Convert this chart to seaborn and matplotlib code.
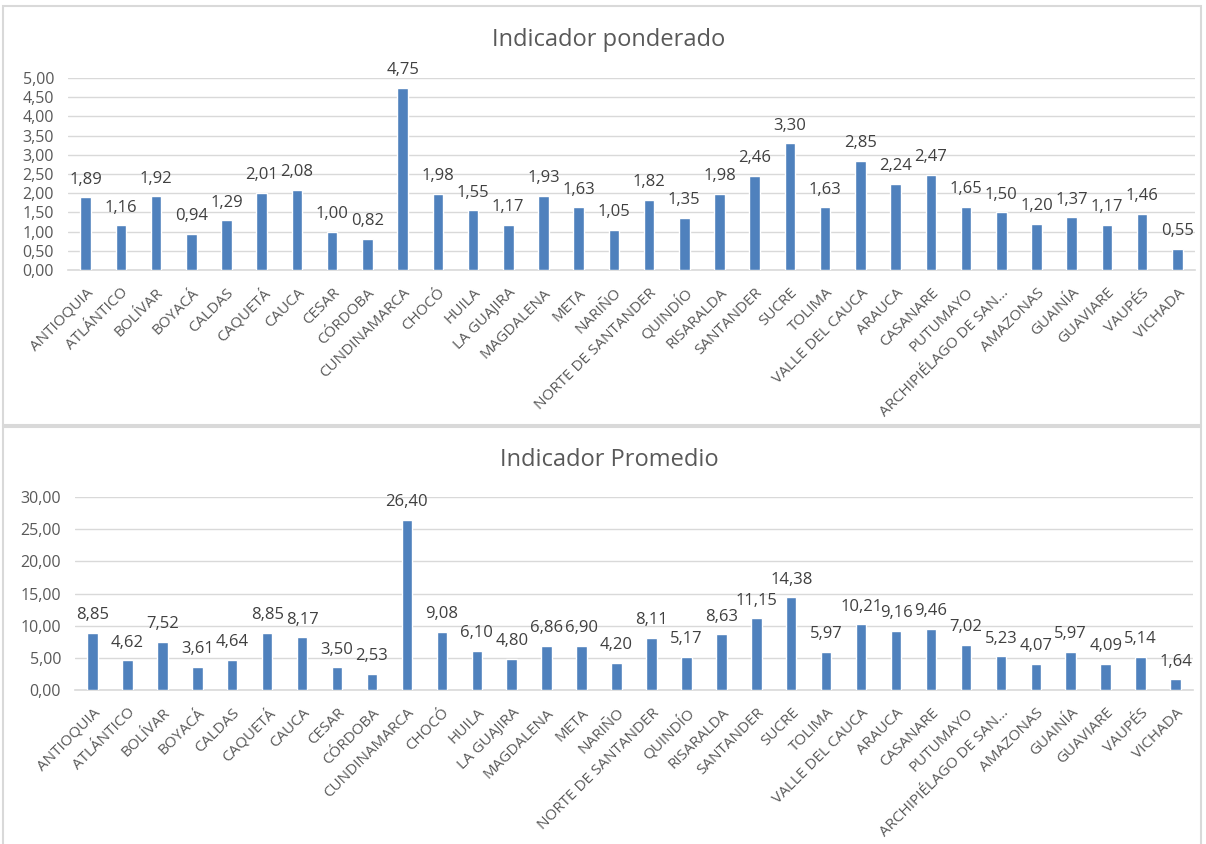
import matplotlib
matplotlib.use("Agg")
import matplotlib.pyplot as plt
import seaborn as sns
import pandas as pd
from matplotlib.patches import Rectangle

categories = ["ANTIOQUIA", "ATLÁNTICO", "BOLÍVAR", "BOYACÁ", "CALDAS", "CAQUETÁ", "CAUCA",
              "CESAR", "CÓRDOBA", "CUNDINAMARCA", "CHOCÓ", "HUILA", "LA GUAJIRA", "MAGDALENA",
              "META", "NARIÑO", "NORTE DE SANTANDER", "QUINDÍO", "RISARALDA", "SANTANDER",
              "SUCRE", "TOLIMA", "VALLE DEL CAUCA", "ARAUCA", "CASANARE", "PUTUMAYO",
              "ARCHIPIÉLAGO DE SAN...", "AMAZONAS", "GUAINÍA", "GUAVIARE", "VAUPÉS", "VICHADA"]

ponderado = [1.89, 1.16, 1.92, 0.94, 1.29, 2.01, 2.08, 1.00, 0.82, 4.75, 1.98, 1.55, 1.17, 1.93,
             1.63, 1.05, 1.82, 1.35, 1.98, 2.46, 3.30, 1.63, 2.85, 2.24, 2.47, 1.65, 1.50, 1.20,
             1.37, 1.17, 1.46, 0.55]

promedio = [8.85, 4.62, 7.52, 3.61, 4.64, 8.85, 8.17, 3.50, 2.53, 26.40, 9.08, 6.10, 4.80, 6.86,
            6.90, 4.20, 8.11, 5.17, 8.63, 11.15, 14.38, 5.97, 10.21, 9.16, 9.46, 7.02, 5.23, 4.07,
            5.97, 4.09, 5.14, 1.64]

titles = ["Indicador ponderado", "Indicador Promedio"]
yticks_top = [0, 0.5, 1, 1.5, 2, 2.5, 3, 3.5, 4, 4.5, 5]
yticks_bot = [0, 5, 10, 15, 20, 25, 30]

sns.set_theme(style="white")
plt.rcParams["font.family"] = ["Open Sans", "DejaVu Sans"]

W, H = 1206, 844
fig = plt.figure(figsize=(W / 100, H / 100), dpi=100)

BAR = "#4F81BD"
TXT = "#595959"
GRID = "#D9D9D9"

def fx(px):
    return px / W

def fy(py):
    return 1 - py / H

# panel borders
for (x0, y0, x1, y1) in [(3, 6, 1201, 425), (3, 427, 1201, 846)]:
    fig.add_artist(Rectangle((fx(x0), fy(y1)), fx(x1 - x0), (y1 - y0) / H,
                             transform=fig.transFigure, fill=False,
                             edgecolor=GRID, linewidth=1.5))

def panel(left, right, ytop, ybot, values, yticks, title, title_y):
    ax = fig.add_axes([fx(left), fy(ybot), fx(right - left), (ybot - ytop) / H])
    df = pd.DataFrame({"cat": categories, "val": values})
    sns.barplot(data=df, x="cat", y="val", color=BAR, width=0.3, saturation=1,
                ax=ax, zorder=3)
    ax.set_xlim(-0.5, len(categories) - 0.5)
    ax.set_ylim(yticks[0], yticks[-1])
    ax.set_yticks(yticks)
    ax.set_yticklabels([f"{t:.2f}".replace(".", ",") for t in yticks], color=TXT, fontsize=11.5)
    ax.set_xticks(range(len(categories)))
    ax.set_xticklabels(categories, rotation=45, ha="right", rotation_mode="anchor",
                       color=TXT, fontsize=11)
    ax.tick_params(axis="y", length=0, pad=10)
    ax.tick_params(axis="x", length=0, pad=11)
    ax.set_xlabel("")
    ax.set_ylabel("")
    ax.grid(axis="y", color=GRID, linewidth=1, zorder=0)
    for s in ["top", "right", "left"]:
        ax.spines[s].set_visible(False)
    ax.spines["bottom"].set_color(GRID)
    ax.spines["bottom"].set_linewidth(1.2)
    ax.set_facecolor("none")
    for i, v in enumerate(values):
        ax.annotate(f"{v:.2f}".replace(".", ","), (i, v), xytext=(0, 7),
                    textcoords="offset points", ha="center", va="bottom",
                    color="#404040", fontsize=12)
    fig.text(fx(609), fy(title_y), title, ha="center", va="center",
             color=TXT, fontsize=17)
    return ax

panel(68, 1195, 78, 270, ponderado, yticks_top, titles[0], 40)
panel(75, 1193, 497, 690, promedio, yticks_bot, titles[1], 460)

fig.savefig("out.png", dpi=100)
